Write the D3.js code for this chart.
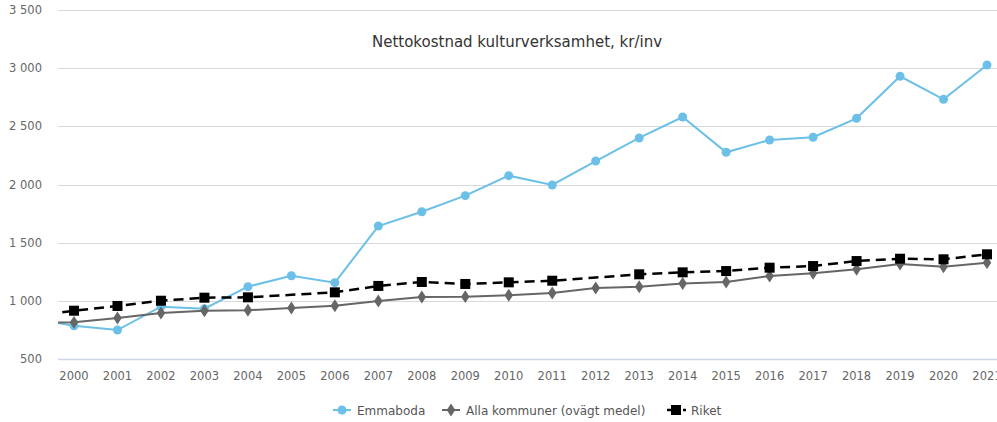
<!DOCTYPE html>
<html>
<head>
<meta charset="utf-8">
<script src="https://cdn.jsdelivr.net/npm/d3@7"></script>
<style>
body { margin: 0; background: #fff; }
svg { font-family: "DejaVu Sans", Verdana, sans-serif; }
.grid line { stroke: #d9d9d9; }
.ylab, .xlab { fill: #666; font-size: 11.5px; }
.legend text { fill: #555; font-size: 12px; }
</style>
</head>
<body>
<svg id="chart"></svg>
<script>
var width = 997, height = 422;
var plotLeft = 58, plotRight = 997, plotTop = 10, plotBottom = 359;

// 1999 is only partly visible at the left edge
var years = [1999, 2000, 2001, 2002, 2003, 2004, 2005, 2006, 2007, 2008, 2009, 2010,
             2011, 2012, 2013, 2014, 2015, 2016, 2017, 2018, 2019, 2020, 2021];
var emmaboda = [851, 786, 749, 950, 932, 1122, 1216, 1156, 1643, 1766, 1904, 2076,
                1996, 2202, 2400, 2580, 2277, 2383, 2406, 2569, 2930, 2732, 3027];
var allaKommuner = [809, 815, 852, 895, 915, 919, 938, 958, 999, 1033, 1036, 1048,
                    1067, 1110, 1121, 1149, 1162, 1213, 1237, 1271, 1317, 1293, 1328];
var riket = [866, 915, 956, 1001, 1027, 1030, 1052, 1073, 1128, 1162, 1145, 1159,
             1173, 1200, 1228, 1245, 1256, 1285, 1299, 1342, 1362, 1357, 1400];
var riketNoMarker = [1999, 2005, 2012];
var yTicks = [500, 1000, 1500, 2000, 2500, 3000, 3500];
var title = "Nettokostnad kulturverksamhet, kr/inv";
var seriesNames = ["Emmaboda", "Alla kommuner (ovägt medel)", "Riket"];

var svg = d3.select("#chart")
.attr("width", width)
.attr("height", height);

var x = d3.scaleLinear()
.domain([2000, 2021])
.range([74, 987]);

var y = d3.scaleLinear()
.domain([500, 3500])
.range([plotBottom, plotTop]);

svg.append("defs").append("clipPath")
.attr("id", "plotClip")
.append("rect")
.attr("x", plotLeft).attr("y", 0)
.attr("width", plotRight-plotLeft).attr("height", plotBottom+10);

// grid + y labels
var grid = svg.append("g").attr("class", "grid");
grid.selectAll("line").data(yTicks).enter()
.append("line")
.attr("x1", plotLeft).attr("x2", plotRight)
.attr("y1", function(d) { return Math.round(y(d))+0.5; })
.attr("y2", function(d) { return Math.round(y(d))+0.5; })
.style("stroke", function(d) { return d == 500 ? "#ccd6eb" : null; })
.style("stroke-width", function(d) { return d == 500 ? 1.5 : 1; });

var fmt = function(d) { return d3.format(",")(d).replace(",", "\u00a0"); };
svg.append("g").selectAll("text").data(yTicks).enter()
.append("text")
.attr("class", "ylab")
.attr("x", 42)
.attr("y", function(d) { return y(d)+4; })
.attr("text-anchor", "end")
.text(fmt);

svg.append("g").selectAll("text").data(years.filter(function(d) { return d >= 2000; })).enter()
.append("text")
.attr("class", "xlab")
.attr("x", function(d) { return x(d); })
.attr("y", 380)
.attr("text-anchor", "middle")
.text(function(d) { return d; });

svg.append("text")
.attr("x", 517)
.attr("y", 47)
.attr("text-anchor", "middle")
.style("font-size", "15px")
.style("fill", "#333")
.text(title);

var plot = svg.append("g").attr("clip-path", "url(#plotClip)");

function lineFor(vals) {
	return d3.line()
	.x(function(d, i) { return x(years[i]); })
	.y(function(d) { return y(d); })(vals);
}

// Emmaboda
plot.append("path")
.attr("d", lineFor(emmaboda))
.attr("fill", "none")
.attr("stroke", "#6cc0e8")
.attr("stroke-width", 2);
plot.append("g").selectAll("circle").data(emmaboda).enter()
.append("circle")
.attr("cx", function(d, i) { return x(years[i]); })
.attr("cy", function(d) { return y(d); })
.attr("r", 4.5)
.attr("fill", "#6cc0e8");

// Alla kommuner
plot.append("path")
.attr("d", lineFor(allaKommuner))
.attr("fill", "none")
.attr("stroke", "#666")
.attr("stroke-width", 2);
var diamond = d3.symbol().type(d3.symbolDiamond).size(48);
plot.append("g").selectAll("path").data(allaKommuner).enter()
.append("path")
.attr("d", diamond)
.attr("transform", function(d, i) { return "translate("+[x(years[i]), y(d)]+") scale(1.15,1)"; })
.attr("fill", "#666");

// Riket
plot.append("path")
.attr("d", lineFor(riket))
.attr("fill", "none")
.attr("stroke", "#000")
.attr("stroke-width", 2.5)
.attr("stroke-dasharray", "10,6");
plot.append("g").selectAll("rect")
.data(riket.map(function(v, i) { return {year: years[i], v: v}; })
	.filter(function(d) { return riketNoMarker.indexOf(d.year) < 0; }))
.enter()
.append("rect")
.attr("x", function(d) { return x(d.year)-5; })
.attr("y", function(d) { return y(d.v)-5; })
.attr("width", 10).attr("height", 10)
.attr("fill", "#000");

// legend
var legend = svg.append("g").attr("class", "legend");
var lx = [333, 442, 667];
var ly = 410;

legend.append("line")
.attr("x1", lx[0]).attr("x2", lx[0]+18).attr("y1", ly).attr("y2", ly)
.attr("stroke", "#6cc0e8").attr("stroke-width", 2);
legend.append("circle")
.attr("cx", lx[0]+9).attr("cy", ly).attr("r", 4.5).attr("fill", "#6cc0e8");

legend.append("line")
.attr("x1", lx[1]).attr("x2", lx[1]+18).attr("y1", ly).attr("y2", ly)
.attr("stroke", "#666").attr("stroke-width", 2);
legend.append("path")
.attr("d", diamond)
.attr("transform", "translate("+[lx[1]+9, ly]+") scale(1.15,1)")
.attr("fill", "#666");

legend.append("line")
.attr("x1", lx[2]).attr("x2", lx[2]+19).attr("y1", ly).attr("y2", ly)
.attr("stroke", "#000").attr("stroke-width", 2.5)
.attr("stroke-dasharray", "10,6");
legend.append("rect")
.attr("x", lx[2]+4).attr("y", ly-5).attr("width", 10).attr("height", 10)
.attr("fill", "#000");

legend.selectAll("text").data(seriesNames).enter()
.append("text")
.attr("x", function(d, i) { return lx[i]+24; })
.attr("y", ly+4.5)
.text(function(d) { return d; });
</script>
</body>
</html>
